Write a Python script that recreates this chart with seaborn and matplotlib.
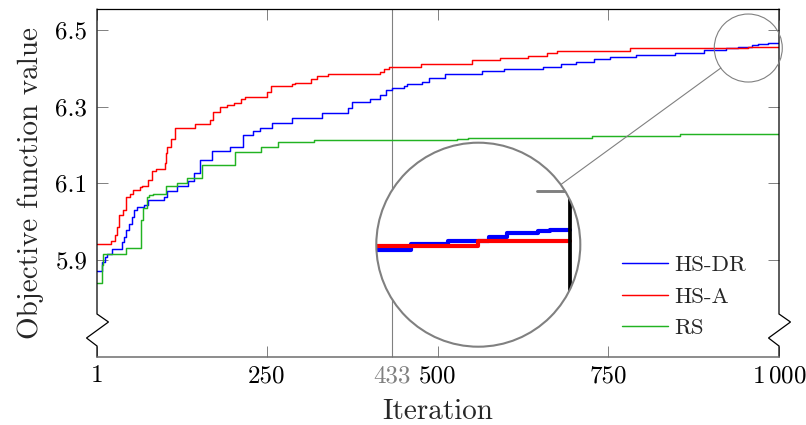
import matplotlib
matplotlib.use("Agg")
import numpy as np
import pandas as pd
import matplotlib.pyplot as plt
from matplotlib.patches import Circle, Ellipse
from matplotlib.lines import Line2D
import seaborn as sns

# best objective value found so far: iteration at which it improves, new value
hsdr_iter = [1, 8, 12, 16, 23, 37, 41, 44, 48, 52, 55, 60, 70, 76, 99, 103, 118, 135,
             143, 152, 169, 196, 215, 230, 240, 257, 286, 330, 369, 374, 401, 416, 424,
             433, 450, 455, 477, 487, 511, 565, 597, 655, 681, 702, 729, 753, 790, 848,
             890, 922, 940, 960, 969, 984, 990]
hsdr_val = [5.872, 5.896, 5.909, 5.915, 5.930, 5.948, 5.961, 5.978, 5.993, 6.013, 6.030,
            6.037, 6.043, 6.056, 6.064, 6.081, 6.093, 6.106, 6.126, 6.161, 6.185, 6.196,
            6.226, 6.237, 6.244, 6.258, 6.270, 6.284, 6.296, 6.313, 6.319, 6.330, 6.343,
            6.348, 6.355, 6.358, 6.365, 6.376, 6.384, 6.393, 6.398, 6.404, 6.411, 6.416,
            6.424, 6.429, 6.435, 6.441, 6.448, 6.454, 6.456, 6.460, 6.463, 6.465, 6.466]

hsa_iter = [1, 21, 27, 30, 33, 39, 43, 50, 54, 64, 67, 76, 81, 88, 100, 102, 104, 109,
            115, 144, 167, 171, 181, 191, 201, 212, 218, 250, 256, 286, 291, 315, 323,
            340, 416, 421, 428, 475, 550, 592, 633, 660, 675, 782, 955]
hsa_val = [5.941, 5.950, 5.964, 5.987, 6.017, 6.030, 6.065, 6.072, 6.083, 6.090, 6.093,
           6.110, 6.133, 6.137, 6.152, 6.178, 6.196, 6.215, 6.244, 6.254, 6.265, 6.287,
           6.300, 6.304, 6.309, 6.319, 6.324, 6.339, 6.354, 6.359, 6.363, 6.371, 6.380,
           6.384, 6.390, 6.398, 6.404, 6.411, 6.422, 6.428, 6.433, 6.439, 6.445, 6.452,
           6.456]

rs_iter = [1, 8, 10, 43, 65, 69, 74, 77, 83, 102, 118, 133, 155, 203, 241, 266, 319,
           528, 545, 726, 855]
rs_val = [5.841, 5.887, 5.915, 5.932, 6.004, 6.035, 6.065, 6.070, 6.072, 6.093, 6.101,
          6.113, 6.147, 6.181, 6.194, 6.209, 6.212, 6.216, 6.219, 6.223, 6.230]

methods = ["HS-DR", "HS-A", "RS"]
colors = ["#0000ff", "#ff0000", "#22b322"]
n_iter = 1000
marked_iter = 433

x_ticks = [1, 250, 433, 500, 750, 1000]
x_tick_labels = ["1", "250", "433", "500", "750", r"$1\,000$"]
y_ticks = [5.9, 6.1, 6.3, 6.5]
y_tick_labels = ["5.9", "6.1", "6.3", "6.5"]

frames = []
for name, its, vals in zip(methods, [hsdr_iter, hsa_iter, rs_iter],
                           [hsdr_val, hsa_val, rs_val]):
    its = list(its) + [n_iter]
    vals = list(vals) + [vals[-1]]
    frames.append(pd.DataFrame({"Iteration": its, "Value": vals, "Method": name}))
df = pd.concat(frames, ignore_index=True)
palette = dict(zip(methods, colors))

sns.set_theme(style="white")
plt.rcParams["font.family"] = ["cmr10", "DejaVu Serif"]
plt.rcParams["mathtext.fontset"] = "cm"
plt.rcParams["axes.unicode_minus"] = False

W, H, DPI = 806, 425, 100
GRAY = "#808080"
fig = plt.figure(figsize=(W / DPI, H / DPI), dpi=DPI)
ax_l, ax_b, ax_w, ax_h = 97, 68, 682, 348
ax = fig.add_axes([ax_l / W, ax_b / H, ax_w / W, ax_h / H])

ax.axvline(marked_iter, color=GRAY, lw=0.8, zorder=1)
sns.lineplot(data=df, x="Iteration", y="Value", hue="Method", hue_order=methods,
             palette=palette, drawstyle="steps-post", lw=1.05, estimator=None,
             ax=ax, zorder=2)

ylo, yhi = 5.647, 6.5548
ax.set_xlim(1, n_iter)
ax.set_ylim(ylo, yhi)
ax.set_xticks(x_ticks)
ax.set_xticklabels(x_tick_labels)
ax.set_yticks(y_ticks)
ax.set_yticklabels(y_tick_labels)
ax.tick_params(direction="in", length=8, width=0.7, color=GRAY, labelcolor="black",
               labelsize=18, top=True, right=True, bottom=True, left=True)
ax.tick_params(axis="x", pad=6)
ax.tick_params(axis="y", pad=7)
for lab in ax.get_xticklabels():
    if lab.get_text() == str(marked_iter):
        lab.set_color(GRAY)
ax.set_xlabel("Iteration", fontsize=21, labelpad=8)
ax.set_ylabel("Objective function value", fontsize=21, labelpad=8)

for side in ["left", "right"]:
    ax.spines[side].set_visible(False)
ax.spines["top"].set_color("black")
ax.spines["top"].set_linewidth(0.9)
ax.spines["bottom"].set_color("#6e6e6e")
ax.spines["bottom"].set_linewidth(1.1)

# broken y axis: vertical sides with a zigzag near the bottom
ya, yb, yc, yd = [(357 - p) / ax_h for p in (314, 322, 338, 346)]
dx1, dx2 = 11.5 / ax_w, -10.5 / ax_w
for x0 in (0.0, 1.0):
    ax.add_line(Line2D([x0, x0, x0 + dx1, x0 + dx2, x0, x0], [1, ya, yb, yc, yd, 0],
                       transform=ax.transAxes, color="black", lw=0.9, clip_on=False,
                       solid_joinstyle="miter"))

sns.move_legend(ax, "upper left", bbox_to_anchor=((622 - ax_l) / ax_w, (357 - 255) / ax_h),
                frameon=False, title=None, fontsize=16.5, handlelength=2.0,
                handletextpad=0.27, labelspacing=0.5, borderpad=0, borderaxespad=0)

# magnified view of the final iterations
ppi = ax_w / (n_iter - 1)
ppv = ax_h / (yhi - ylo)
cx, cy, r_main, mag = 955, 6.453, 34, 3
ax.add_patch(Ellipse((cx, cy), 2 * r_main / ppi, 2 * r_main / ppv, fill=False,
                     ec=GRAY, lw=0.8, clip_on=False, zorder=5))

ins_cx, ins_cy, r_ins = 478.3, 425 - 244.7, r_main * mag
axins = fig.add_axes([(ins_cx - r_ins) / W, (ins_cy - r_ins) / H, 2 * r_ins / W, 2 * r_ins / H])
axins.axis("off")
bg = Circle((0.5, 0.5), 0.5, transform=axins.transAxes, fc="white", ec="none", zorder=0)
axins.add_patch(bg)
sns.lineplot(data=df, x="Iteration", y="Value", hue="Method", hue_order=methods,
             palette=palette, drawstyle="steps-post", lw=3.0, estimator=None,
             ax=axins, legend=False, zorder=2)
half_x = r_ins / (mag * ppi)
half_y = r_ins / (mag * ppv)
axins.set_xlim(cx - half_x, cx + half_x)
axins.set_ylim(cy - half_y, cy + half_y)
axins.plot([n_iter, n_iter], [cy - half_y, cy + half_y], color="black", lw=2.7, zorder=3)
tick_len_iter = 11 / ppi
axins.plot([n_iter - tick_len_iter, n_iter], [6.5, 6.5], color=GRAY, lw=2.1, zorder=3)
for art in axins.lines:
    art.set_clip_path(bg)
axins.add_patch(Circle((0.5, 0.5), 0.5, transform=axins.transAxes, fill=False,
                       ec=GRAY, lw=1.5, zorder=4, clip_on=False))

# connector between the two circles
p_small = np.array(ax.transData.transform((cx, cy)))
p_big = np.array([ins_cx, ins_cy])
u = (p_big - p_small) / np.linalg.norm(p_big - p_small)
a = p_small + u * r_main
b = p_big - u * r_ins
fig.add_artist(Line2D([a[0] / W, b[0] / W], [a[1] / H, b[1] / H],
                      transform=fig.transFigure, color=GRAY, lw=0.8))

fig.savefig("out.png", dpi=DPI)
